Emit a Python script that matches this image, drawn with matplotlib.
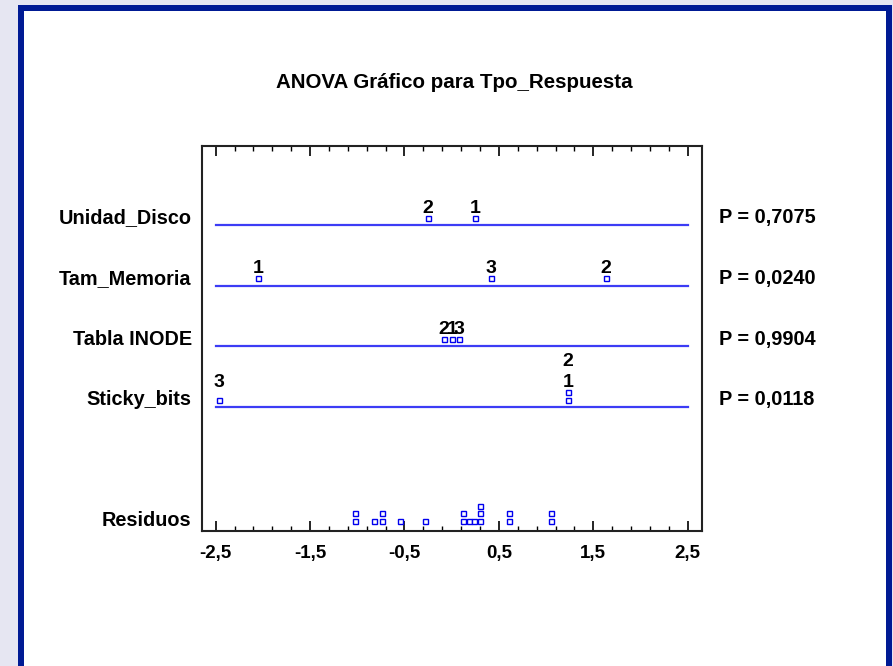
import matplotlib
matplotlib.use("Agg")
import matplotlib.pyplot as plt
from matplotlib.patches import Rectangle
from matplotlib.ticker import FixedLocator
from collections import OrderedDict

plt.rcParams['font.family'] = ['Liberation Sans', 'DejaVu Sans']
plt.rcParams['font.weight'] = 'bold'

# ---- data ----
title = "ANOVA Gráfico para Tpo_Respuesta"
factors = ["Unidad_Disco", "Tam_Memoria", "Tabla INODE", "Sticky_bits"]
p_values = ["P = 0,7075", "P = 0,0240", "P = 0,9904", "P = 0,0118"]
# scaled level effects, keyed by level label
unidad_disco = {"1": 0.25, "2": -0.25}
tam_memoria = {"1": -2.05, "2": 1.63, "3": 0.42}
tabla_inode = {"1": 0.0, "2": -0.085, "3": 0.08}
sticky_bits = {"1": 1.23, "2": 1.23, "3": -2.46}
effects = [unidad_disco, tam_memoria, tabla_inode, sticky_bits]
residuals = [-1.02, -1.02, -0.82, -0.735, -0.735, -0.545, -0.28,
             0.115, 0.115, 0.18, 0.235, 0.305, 0.305, 0.305,
             0.61, 0.61, 1.055, 1.055]
tick_values = [-2.5, -1.5, -0.5, 0.5, 1.5, 2.5]
tick_labels = ["-2,5", "-1,5", "-0,5", "0,5", "1,5", "2,5"]

W, H = 893, 666
fig = plt.figure(figsize=(W / 100, H / 100), dpi=100)
fig.patch.set_facecolor('#e6e6f2')

# blue frame with white panel
def fr(x0, y0, x1, y1):
    return (x0 / W, 1 - y1 / H), (x1 - x0) / W, (y1 - y0) / H

xy, w, h = fr(18, 5, 892, 700)
fig.patches.append(Rectangle(xy, w, h, transform=fig.transFigure,
                             facecolor='#001a94', edgecolor='none', zorder=-2))
xy, w, h = fr(24, 11, 886, 700)
fig.patches.append(Rectangle(xy, w, h, transform=fig.transFigure,
                             facecolor='white', edgecolor='none', zorder=-1))

fig.text(454 / W, 1 - 83 / H, title, ha='center', va='center',
         fontsize=14.8, fontweight='bold')

ax = fig.add_axes([201.7 / W, 1 - 531 / H, 500 / W, 385 / H])
ax.set_zorder(1)
ax.set_facecolor('white')
ax.set_xlim(-2.648, 2.648)
ax.set_ylim(-1.046, 5.307)

line_color = '#3c3cf5'
mk_color = '#0000ee'
mstep = 0.122      # vertical step between stacked markers
lgap = 0.083       # gap between top marker and label baseline
lstep = 0.347      # vertical step between stacked labels
rows = [4, 3, 2, 1]
msize = 3.6

lbl_tf = ax.get_yaxis_transform()

for yrow, name, pv, eff in zip(rows, factors, p_values, effects):
    ax.plot([-2.5, 2.5], [yrow, yrow], color=line_color, lw=1.6, zorder=2)
    groups = OrderedDict()
    for lev, val in sorted(eff.items()):
        groups.setdefault(val, []).append(lev)
    maxstack = max(len(v) for v in groups.values())
    for val, levs in groups.items():
        for i, lev in enumerate(levs):
            ax.plot(val, yrow + mstep * (i + 1), 's', ms=msize, mfc='white',
                    mec=mk_color, mew=1.0, zorder=3)
            ax.text(val, yrow + mstep * maxstack + lgap + lstep * i, lev,
                    ha='center', va='baseline', fontsize=14,
                    fontweight='bold', zorder=4)
    ax.text(-0.02, yrow + mstep, name, transform=lbl_tf, ha='right',
            va='center', fontsize=14.3, fontweight='bold')
    ax.text(1.035, yrow + mstep, pv, transform=lbl_tf, ha='left',
            va='center', fontsize=14.3, fontweight='bold')

# residuals stacked as a dot plot
res_base = -1.0
counts = OrderedDict()
for r in residuals:
    k = counts.get(r, 0)
    ax.plot(r, res_base + mstep * (k + 1), 's', ms=msize, mfc='white',
            mec=mk_color, mew=1.0, zorder=3)
    counts[r] = k + 1
ax.text(-0.02, res_base + mstep, "Residuos", transform=lbl_tf, ha='right',
        va='center', fontsize=14.3, fontweight='bold')

# axes styling
for s in ax.spines.values():
    s.set_linewidth(1.5)
    s.set_color('#222222')
ax.set_yticks([])
ax.xaxis.set_major_locator(FixedLocator(tick_values))
ax.xaxis.set_minor_locator(FixedLocator([-2.5 + 0.2 * i for i in range(26)]))
ax.set_xticklabels(tick_labels, fontsize=13.5, fontweight='bold')
ax.tick_params(axis='x', which='major', direction='in', length=7.5,
               width=1.2, top=True, bottom=True, pad=10)
ax.tick_params(axis='x', which='minor', direction='in', length=3.5,
               width=1.0, top=True, bottom=True)

fig.savefig("out.png", dpi=100, facecolor=fig.get_facecolor())
